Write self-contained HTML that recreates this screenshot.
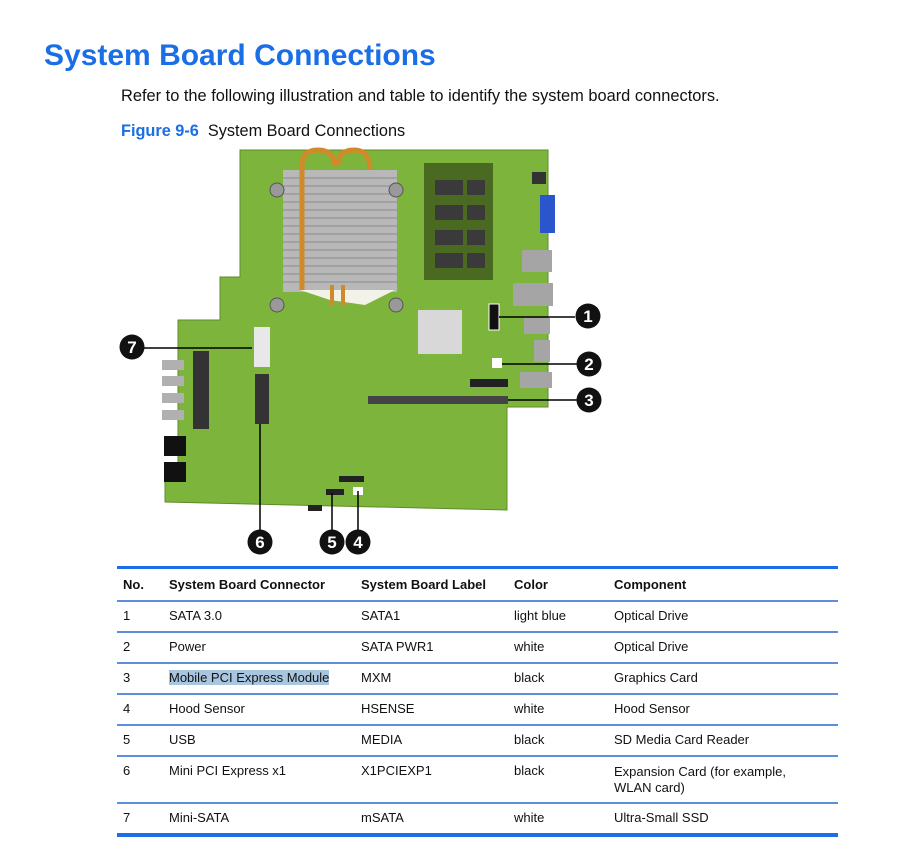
<!DOCTYPE html>
<html><head><style>
body{margin:0;background:#fff;width:915px;height:852px;position:relative;font-family:"Liberation Sans",sans-serif;overflow:hidden}
.t{position:absolute;white-space:nowrap}
h1{position:absolute;left:44px;top:39px;margin:0;font-size:30px;color:#1a6ee6;font-weight:bold}
table{position:absolute;left:117px;top:566px;width:721px;border-collapse:collapse;font-size:13px;color:#111}
td,th{text-align:left;vertical-align:top;padding:0 0 0 6px;border-bottom:2px solid #5b8fd9}
th{font-weight:bold;height:29px;line-height:31px;border-top:3px solid #1a6ee6}
td{height:29px;line-height:28px}
tr:last-child td{border-bottom:4px solid #1a6ee6}
</style></head><body>
<h1>System Board Connections</h1>
<div class="t" style="left:121px;top:87px;font-size:16.4px;color:#111">Refer to the following illustration and table to identify the system board connectors.</div>
<div class="t" style="left:121px;top:122px;font-size:16.3px;color:#111"><b style="color:#1a6ee6">Figure 9-6</b>&nbsp; System Board Connections</div>
<svg style="position:absolute;left:0;top:0" width="915" height="560">
<path d="M240,150 L548,150 L548,407 L507,407 L507,510 L165,502 L165,470 L178,470 L178,320 L220,320 L220,277 L240,277 Z" fill="#7db53c" stroke="#5e8a2c"/>
<rect x="283" y="170" width="114" height="122" fill="#b8b8b8"/>
<g stroke="#8a8a8a" stroke-width="1">
<line x1="283" y1="178" x2="397" y2="178"/><line x1="283" y1="186" x2="397" y2="186"/><line x1="283" y1="194" x2="397" y2="194"/><line x1="283" y1="202" x2="397" y2="202"/><line x1="283" y1="210" x2="397" y2="210"/><line x1="283" y1="218" x2="397" y2="218"/><line x1="283" y1="226" x2="397" y2="226"/><line x1="283" y1="234" x2="397" y2="234"/><line x1="283" y1="242" x2="397" y2="242"/><line x1="283" y1="250" x2="397" y2="250"/><line x1="283" y1="258" x2="397" y2="258"/><line x1="283" y1="266" x2="397" y2="266"/><line x1="283" y1="274" x2="397" y2="274"/><line x1="283" y1="282" x2="397" y2="282"/></g>
<path d="M302,290 L302,165 Q302,150 318,150 Q334,150 334,165 M338,165 Q338,150 354,150 Q370,150 370,170" fill="none" stroke="#d08a2a" stroke-width="5"/>
<path d="M330,300 L300,290 L395,290 L365,305 Z" fill="#f2f2e8"/>
<line x1="332" y1="285" x2="332" y2="305" stroke="#d08a2a" stroke-width="4"/><line x1="343" y1="285" x2="343" y2="305" stroke="#d08a2a" stroke-width="4"/>
<g fill="#999" stroke="#555"><circle cx="277" cy="190" r="7"/><circle cx="396" cy="190" r="7"/><circle cx="277" cy="305" r="7"/><circle cx="396" cy="305" r="7"/></g>
<rect x="424" y="163" width="69" height="117" fill="#4a6a22"/>
<g fill="#3a3a3a"><rect x="435" y="180" width="28" height="15"/><rect x="467" y="180" width="18" height="15"/><rect x="435" y="205" width="28" height="15"/><rect x="467" y="205" width="18" height="15"/><rect x="435" y="230" width="28" height="15"/><rect x="467" y="230" width="18" height="15"/><rect x="435" y="253" width="28" height="15"/><rect x="467" y="253" width="18" height="15"/></g>
<rect x="540" y="195" width="15" height="38" fill="#2a55cc"/>
<g fill="#a5a5a5"><rect x="522" y="250" width="30" height="22"/><rect x="513" y="283" width="40" height="23"/><rect x="524" y="318" width="26" height="16"/><rect x="534" y="340" width="16" height="22"/><rect x="520" y="372" width="32" height="16"/></g>
<rect x="532" y="172" width="14" height="12" fill="#333"/>
<rect x="418" y="310" width="44" height="44" fill="#d8d8d8"/>
<rect x="489" y="304" width="10" height="26" fill="#111" stroke="#fff"/>
<rect x="492" y="358" width="10" height="10" fill="#fff"/>
<rect x="470" y="379" width="38" height="8" fill="#222"/>
<rect x="368" y="396" width="140" height="8" fill="#444"/>
<rect x="254" y="327" width="16" height="40" fill="#e8e8e8"/>
<rect x="255" y="374" width="14" height="50" fill="#333"/>
<rect x="193" y="351" width="16" height="78" fill="#333"/>
<g fill="#b0b0b0"><rect x="162" y="360" width="22" height="10"/><rect x="162" y="376" width="22" height="10"/><rect x="162" y="393" width="22" height="10"/><rect x="162" y="410" width="22" height="10"/></g>
<rect x="164" y="436" width="22" height="20" fill="#111"/><rect x="164" y="462" width="22" height="20" fill="#111"/>
<rect x="339" y="476" width="25" height="6" fill="#222"/><rect x="326" y="489" width="18" height="6" fill="#222"/><rect x="353" y="487" width="10" height="8" fill="#fff"/>
<rect x="308" y="505" width="14" height="6" fill="#222"/>
<g stroke="#000" stroke-width="1.5" fill="none">
<line x1="499" y1="317" x2="575" y2="317"/><line x1="502" y1="364" x2="577" y2="364"/><line x1="508" y1="400" x2="577" y2="400"/>
<line x1="143" y1="348" x2="252" y2="348"/><line x1="260" y1="424" x2="260" y2="530"/><line x1="332" y1="493" x2="332" y2="530"/><line x1="358" y1="491" x2="358" y2="530"/></g>
<g fill="#111"><circle cx="588" cy="316" r="12.5"/><circle cx="589" cy="364" r="12.5"/><circle cx="589" cy="400" r="12.5"/><circle cx="132" cy="347" r="12.5"/><circle cx="260" cy="542" r="12.5"/><circle cx="332" cy="542" r="12.5"/><circle cx="358" cy="542" r="12.5"/></g>
<g fill="#fff" font-family="Liberation Sans" font-weight="bold" font-size="17" text-anchor="middle">
<text x="588" y="322">1</text><text x="589" y="370">2</text><text x="589" y="406">3</text><text x="132" y="353">7</text><text x="260" y="548">6</text><text x="332" y="548">5</text><text x="358" y="548">4</text></g>
</svg>
<table>
<tr><th style="width:40px">No.</th><th style="width:186px">System Board Connector</th><th style="width:147px">System Board Label</th><th style="width:94px">Color</th><th>Component</th></tr>
<tr><td>1</td><td>SATA 3.0</td><td>SATA1</td><td>light blue</td><td>Optical Drive</td></tr>
<tr><td>2</td><td>Power</td><td>SATA PWR1</td><td>white</td><td>Optical Drive</td></tr>
<tr><td>3</td><td><span style="background:#a9c6e0">Mobile PCI Express Module</span></td><td>MXM</td><td>black</td><td>Graphics Card</td></tr>
<tr><td>4</td><td>Hood Sensor</td><td>HSENSE</td><td>white</td><td>Hood Sensor</td></tr>
<tr><td>5</td><td>USB</td><td>MEDIA</td><td>black</td><td>SD Media Card Reader</td></tr>
<tr><td style="height:45px">6</td><td>Mini PCI Express x1</td><td>X1PCIEXP1</td><td>black</td><td style="line-height:16px;padding-top:7px;height:38px">Expansion Card (for example,<br>WLAN card)</td></tr>
<tr><td>7</td><td>Mini-SATA</td><td>mSATA</td><td>white</td><td>Ultra-Small SSD</td></tr>
</table>
</body></html>
